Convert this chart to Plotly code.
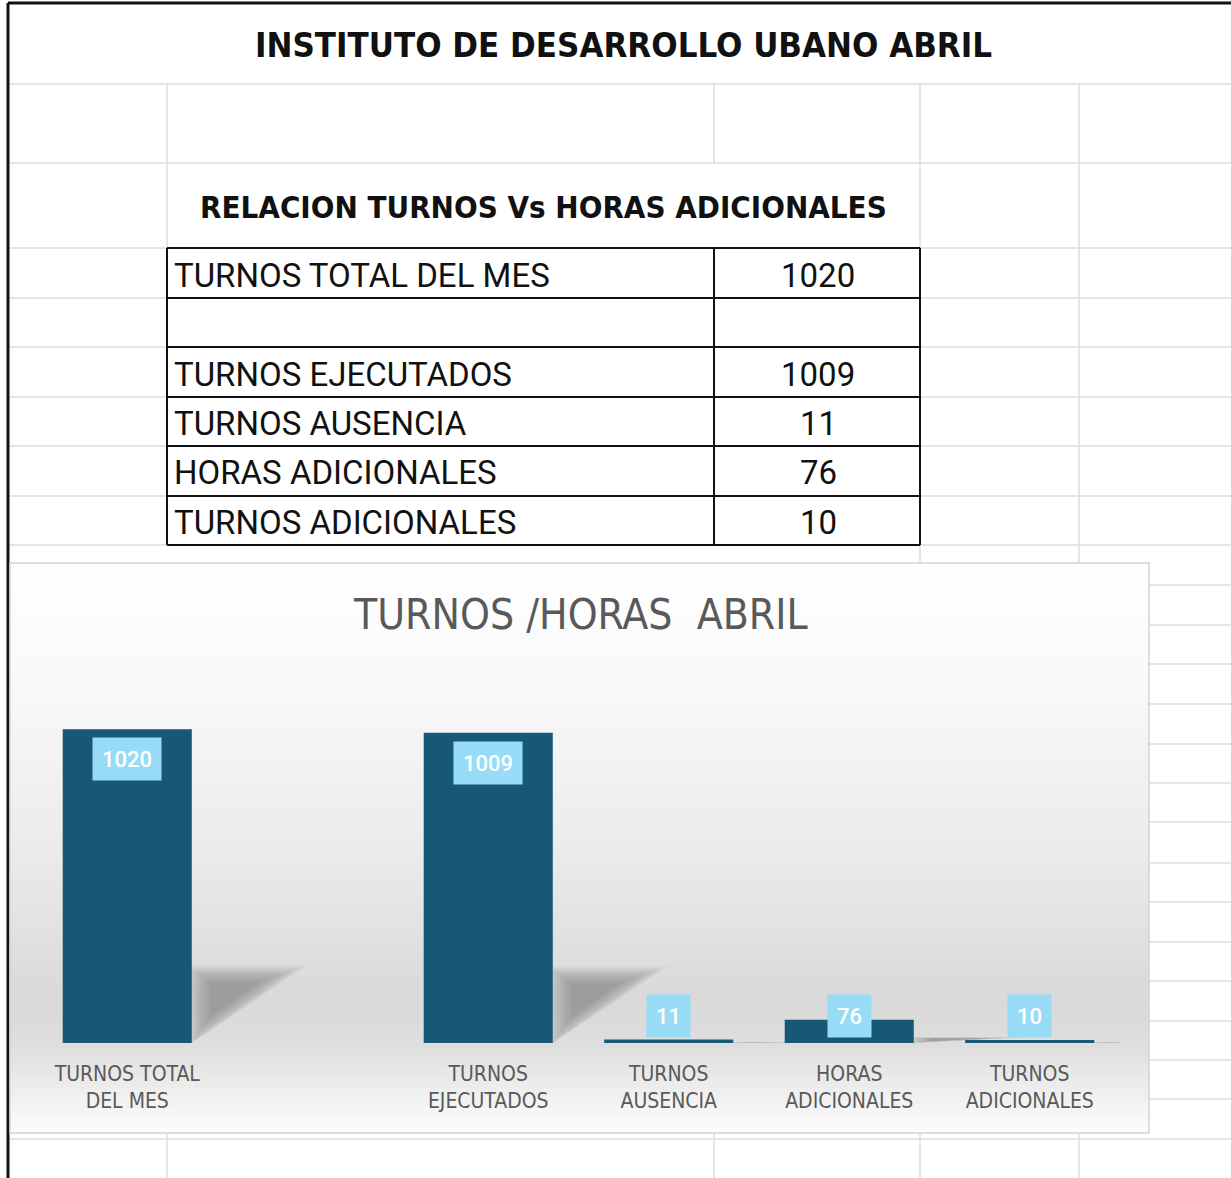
import plotly.graph_objects as go

# ---------------- data ----------------
categories = ["TURNOS TOTAL DEL MES", "", "TURNOS EJECUTADOS", "TURNOS AUSENCIA",
              "HORAS ADICIONALES", "TURNOS ADICIONALES"]
values = [1020, None, 1009, 11, 76, 10]
tick_labels = ["TURNOS TOTAL<br>DEL MES", "", "TURNOS<br>EJECUTADOS", "TURNOS<br>AUSENCIA",
               "HORAS<br>ADICIONALES", "TURNOS<br>ADICIONALES"]
page_title = "INSTITUTO DE DESARROLLO UBANO ABRIL"
table_title = "RELACION TURNOS Vs HORAS ADICIONALES"
chart_title = "TURNOS /HORAS  ABRIL"

# ---------------- layout helpers ----------------
W, H = 1231, 1178
def px(x):
    return x / W
def py(y):
    return 1 - y / H

NARROW = "DejaVu Sans Condensed, Liberation Sans Narrow, sans-serif"
BODY = "Roboto, Liberation Sans, sans-serif"
GRID = "#dcdcdc"
BAR = "#165876"
LABEL_BG = "#97dbf7"

shapes = []
annotations = []

def hline(y, x0, x1, color=GRID, w=1.5):
    shapes.append(dict(type="line", xref="paper", yref="paper", x0=px(x0), x1=px(x1),
                       y0=py(y), y1=py(y), line=dict(color=color, width=w), layer="below"))

def vline(x, y0, y1, color=GRID, w=1.5):
    shapes.append(dict(type="line", xref="paper", yref="paper", x0=px(x), x1=px(x),
                       y0=py(y0), y1=py(y1), line=dict(color=color, width=w), layer="below"))

# spreadsheet grid
hline(84, 8, W)
hline(163, 8, W)
for y in [248, 298, 347, 397, 446, 496, 545]:
    hline(y, 8, W)
for y in [585, 625, 664, 704, 744, 783, 822, 863, 902, 942, 981, 1021, 1060, 1099, 1139]:
    hline(y, 8, W)
vline(167, 84, 248)
vline(167, 1133, H)
vline(714, 84, 163)
vline(714, 1133, H)
vline(920, 84, H)
vline(1079, 84, H)

# table borders (black)
row_tops = [248, 298, 347, 397, 446, 496]
row_bottom = 545
for y in row_tops + [row_bottom]:
    hline(y, 167, 920, color="#111111", w=2)
vline(167, 248, 545, color="#111111", w=2)
vline(714, 248, 545, color="#111111", w=2)
vline(920, 248, 545, color="#111111", w=2)

# outer sheet border
hline(3, 8, W, color="#111111", w=3)
vline(8, 3, H, color="#111111", w=3)

# chart background gradient
cx0, cx1, cy0, cy1 = 10, 1149, 563, 1133
stops = [(563, 255), (700, 248), (850, 235), (1000, 217), (1045, 222), (1133, 253)]
def grey_at(y):
    for (ya, ga), (yb, gb) in zip(stops[:-1], stops[1:]):
        if ya <= y <= yb:
            t = (y - ya) / (yb - ya)
            return ga + t * (gb - ga)
    return stops[-1][1]
step = 5
y = cy0
while y < cy1:
    y2 = min(y + step, cy1)
    g = int(round(grey_at((y + y2) / 2)))
    shapes.append(dict(type="rect", xref="paper", yref="paper", x0=px(cx0), x1=px(cx1),
                       y0=py(y2 + 0.6), y1=py(y), line=dict(width=0),
                       fillcolor=f"rgb({g},{g},{g})", layer="below"))
    y = y2
shapes.append(dict(type="rect", xref="paper", yref="paper", x0=px(cx0), x1=px(cx1),
                   y0=py(cy1), y1=py(cy0), line=dict(color="#d4d4d4", width=1.5),
                   fillcolor="rgba(0,0,0,0)", layer="below"))

# ---------------- chart ----------------
bargap = 0.285
bw = 1 - bargap
xs = list(range(len(categories)))

# soft perspective shadows derived from bar values
for i, v in zip(xs, values):
    if not v:
        continue
    xr = i + bw / 2
    dx, dy = 0.58, 0.235 * v
    pts = [(xr, 0), (xr, dy), (xr + dx, dy)]
    cxm = sum(p[0] for p in pts) / 3
    cym = sum(p[1] for p in pts) / 3
    scales = [1.16, 1.1, 1.04, 0.98, 0.92, 0.85, 0.78, 0.7, 0.62, 0.54, 0.46]
    for s in scales:
        q = [(cxm + (p[0] - cxm) * s, cym + (p[1] - cym) * s) for p in pts]
        path = (f"M {max(q[0][0], xr)},{max(q[0][1], 0)} L {max(q[1][0], xr)},{q[1][1]} "
                f"L {q[2][0]},{q[2][1]} Z")
        shapes.append(dict(type="path", xref="x", yref="y", path=path,
                           fillcolor="rgba(0,0,0,0.026)", line=dict(width=0), layer="below"))

fig = go.Figure()
fig.add_trace(go.Bar(x=xs, y=values, marker=dict(color=BAR, line=dict(width=0)),
                     hoverinfo="skip", showlegend=False))

vmax = max(x for x in values if x is not None)
for i, v in zip(xs, values):
    if v is None:
        continue
    inside = v > 0.12 * vmax
    annotations.append(dict(
        x=i, y=v if inside else 0, xref="x", yref="y",
        yanchor="top" if inside else "bottom", yshift=-8 if inside else 5,
        text=str(v), showarrow=False, bgcolor=LABEL_BG, borderpad=9, height=24,
        font=dict(family=BODY, size=22, color="white", weight=500)))

# ---------------- texts ----------------
annotations.append(dict(x=px(623), y=py(45), xref="paper", yref="paper", text=f"<b>{page_title}</b>",
                        showarrow=False, font=dict(family=NARROW, size=34.5, color="#111111"),
                        xanchor="center", yanchor="middle"))
annotations.append(dict(x=px(543.5), y=py(207), xref="paper", yref="paper", text=f"<b>{table_title}</b>",
                        showarrow=False, font=dict(family=NARROW, size=31, color="#111111"),
                        xanchor="center", yanchor="middle"))
row_bounds = row_tops + [row_bottom]
for k, (c, v) in enumerate(zip(categories, values)):
    yc = (row_bounds[k] + row_bounds[k + 1]) / 2 + 2
    if c:
        annotations.append(dict(x=px(172), y=py(yc), xref="paper", yref="paper", text=c,
                                showarrow=False, font=dict(family=BODY, size=33, color="#111111"),
                                xanchor="left", yanchor="middle"))
    if v is not None:
        annotations.append(dict(x=px(818), y=py(yc), xref="paper", yref="paper", text=str(v),
                                showarrow=False, font=dict(family=BODY, size=33, color="#111111"),
                                xanchor="center", yanchor="middle"))
annotations.append(dict(x=px(580), y=py(614), xref="paper", yref="paper", text=chart_title,
                        showarrow=False, font=dict(family=NARROW, size=42.3, color="#595959"),
                        xanchor="center", yanchor="middle"))

fig.update_layout(
    width=W, height=H, autosize=False,
    margin=dict(l=0, r=0, t=0, b=0, pad=0),
    paper_bgcolor="white", plot_bgcolor="rgba(0,0,0,0)",
    bargap=bargap,
    shapes=shapes, annotations=annotations,
    xaxis=dict(domain=[px(37), px(1120)], range=[-0.5, 5.5], tickmode="array",
               tickvals=xs, ticktext=tick_labels, showgrid=False, zeroline=False,
               showline=False, ticks="", ticklabelstandoff=16,
               tickfont=dict(family=NARROW, size=21, color="#595959")),
    yaxis=dict(domain=[py(1043), py(674)], range=[0, 1200], visible=False,
               showgrid=False, zeroline=False),
)

fig.write_html("out.html")
